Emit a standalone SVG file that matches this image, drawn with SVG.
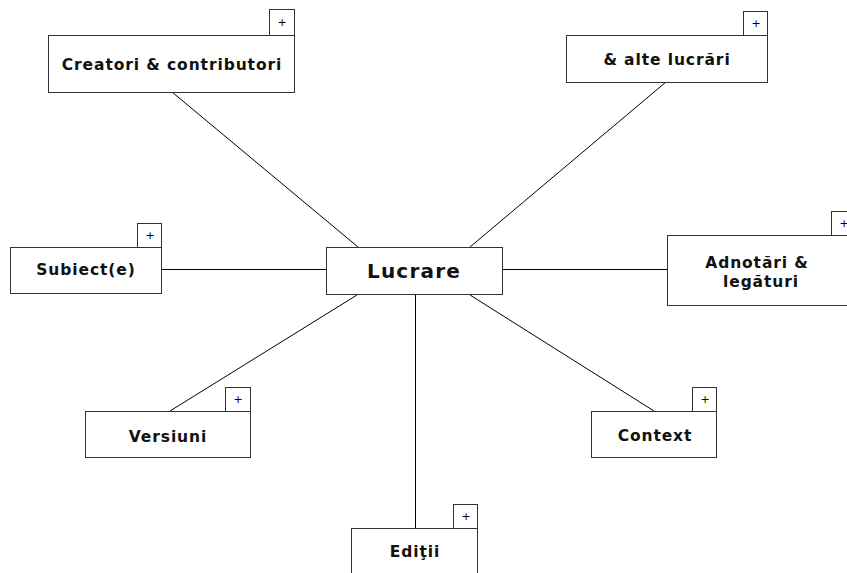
<svg xmlns="http://www.w3.org/2000/svg" width="847" height="573" viewBox="0 0 847 573">
<style>
.box{fill:#fff;stroke:#333;stroke-width:1}
.pl{fill:#fff;stroke:#333;stroke-width:1}
.t{font-family:"DejaVu Sans",Verdana,sans-serif;font-weight:bold;font-size:15.5px;letter-spacing:0.9px;fill:#111;text-anchor:middle}
.big{font-size:20px;letter-spacing:1.2px}
.p{font-family:"DejaVu Sans",sans-serif;font-size:11px;fill:#000;text-anchor:middle}
.c{stroke:#000;stroke-width:1;fill:none}
</style>
<rect width="847" height="573" fill="#fff"/>
<g id="connectors">
<line class="c" x1="172" y1="92" x2="358" y2="247"/>
<line class="c" x1="666" y1="82" x2="470" y2="247"/>
<line class="c" x1="162" y1="269.5" x2="326" y2="269.5"/>
<line class="c" x1="503" y1="269.5" x2="667" y2="269.5"/>
<line class="c" x1="170" y1="411" x2="357" y2="295"/>
<line class="c" x1="654" y1="411" x2="470" y2="295"/>
<line class="c" x1="415.5" y1="295" x2="415.5" y2="528"/>
</g>
<g id="creatori">
<rect class="box" x="48.5" y="35.5" width="246" height="57"/>
<rect class="pl" x="269.5" y="9.5" width="25" height="26"/>
<text class="p" x="282" y="26">+</text>
<text class="t" x="172" y="70">Creatori &amp; contributori</text>
</g>
<g id="alte">
<rect class="box" x="566.5" y="35.5" width="201" height="47"/>
<rect class="pl" x="743.5" y="11.5" width="24" height="24"/>
<text class="p" x="756" y="27">+</text>
<text class="t" x="667" y="65">&amp; alte lucrări</text>
</g>
<g id="subiect">
<rect class="box" x="10.5" y="247.5" width="151" height="46"/>
<rect class="pl" x="137.5" y="223.5" width="24" height="24"/>
<text class="p" x="150" y="239">+</text>
<text class="t" x="86" y="275">Subiect(e)</text>
</g>
<g id="lucrare">
<rect class="box" x="326.5" y="247.5" width="176" height="47"/>
<text class="t big" x="414" y="278">Lucrare</text>
</g>
<g id="adnotari">
<rect class="box" x="667.5" y="235.5" width="190" height="70"/>
<rect class="pl" x="831.5" y="211.5" width="25" height="24"/>
<text class="p" x="844" y="227">+</text>
<text class="t" x="757" y="268">Adnotări &amp;</text>
<text class="t" x="761" y="287">legături</text>
</g>
<g id="versiuni">
<rect class="box" x="85.5" y="411.5" width="165" height="46"/>
<rect class="pl" x="225.5" y="387.5" width="25" height="24"/>
<text class="p" x="238" y="403">+</text>
<text class="t" x="168" y="442">Versiuni</text>
</g>
<g id="context">
<rect class="box" x="591.5" y="411.5" width="125" height="46"/>
<rect class="pl" x="692.5" y="387.5" width="24" height="24"/>
<text class="p" x="705" y="403">+</text>
<text class="t" x="655" y="441">Context</text>
</g>
<g id="editii">
<rect class="box" x="351.5" y="528.5" width="126" height="60"/>
<rect class="pl" x="453.5" y="504.5" width="24" height="24"/>
<text class="p" x="466" y="520">+</text>
<text class="t" x="415" y="557">Ediţii</text>
</g>
</svg>
